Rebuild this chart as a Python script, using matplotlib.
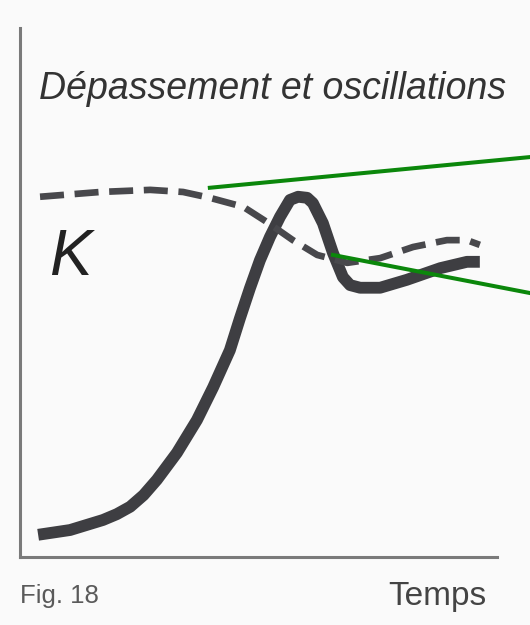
import matplotlib.pyplot as plt

# réponse (trait plein) et consigne K (tirets), temps en % de l'axe
t_resp = [3.8, 10.5, 17.4, 20.3, 23.1, 25.9, 28.7, 32.9, 37.1, 40.5, 44.0, 46.1, 48.2, 50.3, 52.4, 54.5,
          56.6, 58.3, 60.2, 61.4, 63.5, 65.6, 67.7, 69.2, 71.3, 75.5, 81.1, 88.1, 93.7, 96.4]
y_resp = [4.2, 5.1, 7.0, 8.1, 9.5, 11.7, 14.6, 19.7, 25.9, 32.1, 39.1, 45.1, 50.8, 56.1, 60.5, 64.3,
          67.5, 68.1, 67.9, 66.9, 63.1, 57.5, 52.9, 51.4, 50.9, 50.9, 52.4, 54.6, 55.8, 55.8]

t_k = [4.2, 16.8, 27.3, 34.2, 39.8, 46.8, 51.8, 57.2, 62.3, 68.6, 75.5, 82.4, 89.5, 93.7, 96.4]
y_k = [68.1, 69.0, 69.4, 69.0, 67.9, 66.2, 63.3, 59.9, 57.1, 55.6, 56.5, 58.6, 59.9, 59.9, 59.0]

# traits verts (annotations)
g1_x = [39.8, 106.9]
g1_y = [69.8, 75.6]
g2_x = [65.6, 106.9]
g2_y = [57.1, 49.9]

fig = plt.figure(figsize=(5.3, 6.25), dpi=100, facecolor='#fafafa')
ax = fig.add_axes([20/530, 68/625, 477/530, 529/625])
ax.set_facecolor('#fafafa')

ax.plot(t_resp, y_resp, '-', color='#3e3e42', lw=8.5, solid_capstyle='butt', solid_joinstyle='round')
ax.plot(t_k, y_k, '--', color='#48484c', lw=4.8, dashes=(3.6, 1.6))
ax.plot(g1_x, g1_y, '-', color='#0b870b', lw=2.9, clip_on=False)
ax.plot(g2_x, g2_y, '-', color='#0b870b', lw=2.9, clip_on=False)

ax.set_xlim(0, 100)
ax.set_ylim(0, 100)
for s in ['top', 'right']:
    ax.spines[s].set_visible(False)
for s in ['left', 'bottom']:
    ax.spines[s].set_color('#7a7a7a')
    ax.spines[s].set_linewidth(2.2)
ax.set_xticks([])
ax.set_yticks([])

ax.text(4.0, 86.6, 'Dépassement et oscillations', fontsize=27, style='italic',
        family='Liberation Sans', color='#333333', va='baseline', ha='left')
ax.text(6.0, 53.3, 'K', fontsize=46, style='italic', family='Liberation Sans',
        color='#222222', va='baseline', ha='left')
ax.text(77.1, -9.1, 'Temps', fontsize=24, family='Liberation Sans', color='#444444',
        va='baseline', ha='left', clip_on=False)
fig.text(20/530, 1 - 603/625, 'Fig. 18', fontsize=18.5, family='Liberation Sans',
         color='#5a5a5a', va='baseline', ha='left')

plt.savefig('out.png', facecolor=fig.get_facecolor())
